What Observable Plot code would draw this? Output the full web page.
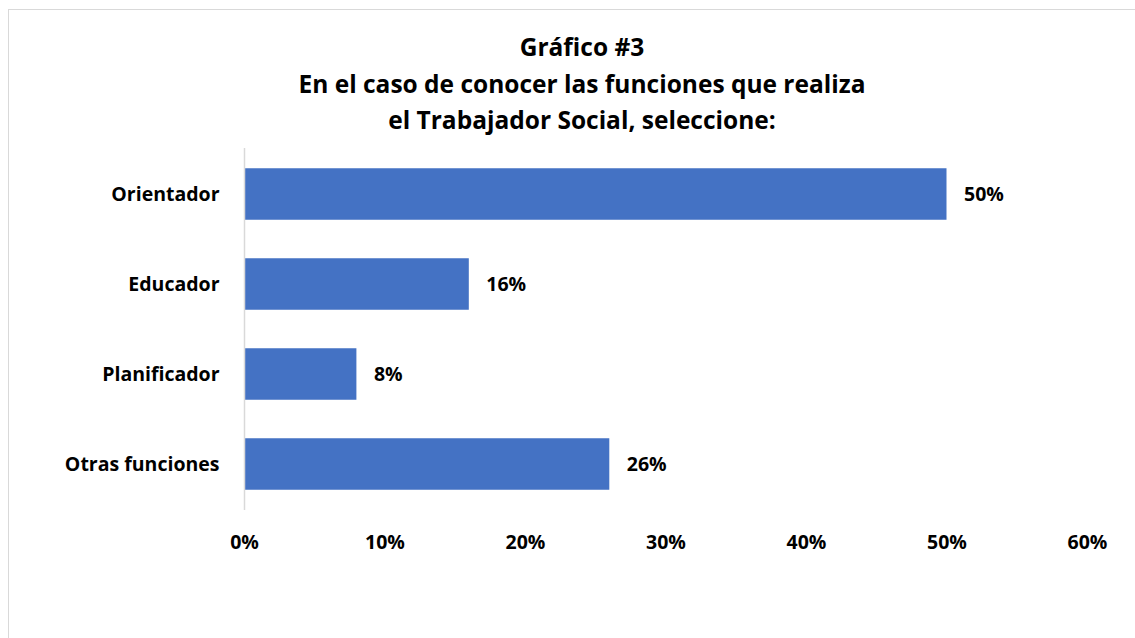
<!DOCTYPE html>
<html>
<head>
<meta charset="utf-8">
<script src="https://cdn.jsdelivr.net/npm/d3@7"></script>
<script src="https://cdn.jsdelivr.net/npm/@observablehq/plot@0.6"></script>
<style>
  html, body { margin: 0; padding: 0; background: #fff; }
  body { width: 1135px; height: 638px; position: relative; overflow: hidden; font-family: "Open Sans", Lato, sans-serif; }
  #frame { position: absolute; left: 8px; top: 9px; width: 1140px; height: 700px; border: 1.5px solid #d9d9d9; box-sizing: border-box; }
  #title { position: absolute; left: 0; width: 1164px; top: 29px; text-align: center; font-weight: 700; font-size: 24.5px; line-height: 36.5px; color: #000; }
  #chart { position: absolute; left: 0; top: 0; }
</style>
</head>
<body>
<div id="frame"></div>
<div id="chart"></div>
<div id="title">Gráfico #3<br>En el caso de conocer las funciones que realiza<br>el Trabajador Social, seleccione:</div>
<script>
const categories = ["Orientador", "Educador", "Planificador", "Otras funciones"];
const values = [0.50, 0.16, 0.08, 0.26];
const tickValues = [0, 0.1, 0.2, 0.3, 0.4, 0.5, 0.6];

const data = categories.map((c, i) => ({category: c, value: values[i]}));
const pct = d3.format(".0%");

const chart = Plot.plot({
  width: 1135,
  height: 638,
  marginLeft: 244,
  marginRight: 48,
  marginTop: 148,
  marginBottom: 128,
  style: {fontFamily: "'Open Sans', Lato, sans-serif", fontSize: "19.5px", fontWeight: 700, color: "#000", background: "transparent"},
  x: {domain: [0, 0.6]},
  y: {domain: categories, padding: 0},
  marks: [
    Plot.axisX({ticks: tickValues, tickFormat: pct, tickSize: 0, tickPadding: 25, label: null, fontSize: 19.5, fontWeight: 700}),
    Plot.axisY({tickSize: 0, tickPadding: 25, label: null, fontSize: 19.5, fontWeight: 700}),
    Plot.barX(data, {x: "value", y: "category", fill: "#4472C4", insetTop: 19.25, insetBottom: 19.25}),
    Plot.ruleX([0], {stroke: "#d9d9d9", strokeWidth: 1.5}),
    Plot.text(data, {x: "value", y: "category", text: d => pct(d.value), textAnchor: "start", dx: 17, fontSize: 19.5, fontWeight: 700, fill: "#000"})
  ]
});
document.getElementById("chart").appendChild(chart);
</script>
</body>
</html>
